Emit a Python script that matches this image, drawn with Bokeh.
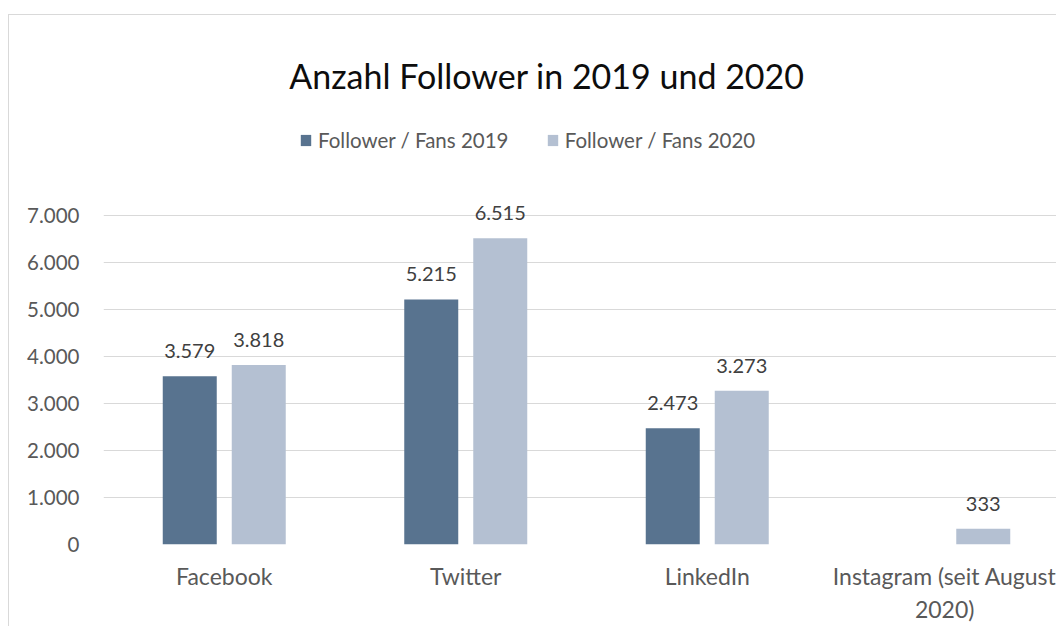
from bokeh.plotting import figure
from bokeh.models import (Range1d, FixedTicker, Label, Legend, LegendItem,
                          ColumnDataSource, LabelSet)
from bokeh.core.properties import value
from bokeh.embed import file_html
from bokeh.resources import INLINE

# ---- data ----
categories = ["Facebook", "Twitter", "LinkedIn", "Instagram (seit August\n2020)"]
fans_2019 = [3579, 5215, 2473, None]
fans_2020 = [3818, 6515, 3273, 333]
series_names = ["Follower / Fans 2019", "Follower / Fans 2020"]
y_ticks = [0, 1000, 2000, 3000, 4000, 5000, 6000, 7000]
y_tick_labels = ["0", "1.000", "2.000", "3.000", "4.000", "5.000", "6.000", "7.000"]
title_text = "Anzahl Follower in 2019 und 2020"

# ---- style / layout ----
FONT = "Lato"
C2019 = "#58738f"
C2020 = "#b4c0d2"
ORIG_X, ORIG_Y = 9, 15          # page position of the canvas
W, H = 1048, 612
FRAME_LEFT_PAGE, FRAME_BOTTOM_PAGE = 103, 544
Y7000_PAGE = 215
ML = FRAME_LEFT_PAGE - ORIG_X
frame_bottom = FRAME_BOTTOM_PAGE - ORIG_Y
MB = H - frame_bottom
frame_w = W - ML
cat_px = 241.5
px_per_unit = (FRAME_BOTTOM_PAGE - Y7000_PAGE) / 7000
x_end = frame_w / cat_px
y_end = frame_bottom / px_per_unit

def fmt(v):
    return f"{v:,}".replace(",", ".")

def px_x(page_x):
    return (page_x - FRAME_LEFT_PAGE) / cat_px

def px_y(page_y):
    return (FRAME_BOTTOM_PAGE - page_y) / px_per_unit

p = figure(width=W, height=H, output_backend="svg", toolbar_location=None,
           x_range=Range1d(0, x_end), y_range=Range1d(0, y_end),
           min_border_left=ML, min_border_right=0, min_border_top=0,
           min_border_bottom=MB)
p.margin = (ORIG_Y - 1, 0, 0, ORIG_X - 1)
p.styles = {"border-left": "1px solid #d9d9d9", "border-top": "1px solid #d9d9d9"}
p.outline_line_color = None
p.background_fill_color = "white"
p.border_fill_color = "white"

bar_w = 54 / cat_px
off = 34.5 / cat_px

def src(vals, shift):
    xs, ys, ls = [], [], []
    for i, v in enumerate(vals):
        if v is None:
            continue
        xs.append(i + 0.5 + shift)
        ys.append(v)
        ls.append(fmt(v))
    return ColumnDataSource(dict(x=xs, top=ys, lab=ls))

s19 = src(fans_2019, -off)
s20 = src(fans_2020, off)
r19 = p.vbar(x="x", top="top", width=bar_w, source=s19, fill_color=C2019, line_color=None)
r20 = p.vbar(x="x", top="top", width=bar_w, source=s20, fill_color=C2020, line_color=None)

for s in (s19, s20):
    p.add_layout(LabelSet(x="x", y="top", text="lab", source=s, text_align="center",
                          text_baseline="bottom", y_offset=18,
                          text_font=value(FONT), text_font_size="20px",
                          text_color="#404040"))

# axes
p.yaxis.ticker = FixedTicker(ticks=y_ticks)
p.yaxis.major_label_overrides = {t: l for t, l in zip(y_ticks, y_tick_labels)}
p.xaxis.ticker = FixedTicker(ticks=[i + 0.5 for i in range(len(categories))])
p.xaxis.major_label_overrides = {i + 0.5: c for i, c in enumerate(categories)}
for ax in (p.xaxis, p.yaxis):
    ax.axis_line_color = None
    ax.major_tick_line_color = None
    ax.minor_tick_line_color = None
    ax.major_tick_in = 0
    ax.major_tick_out = 0
    ax.major_label_text_font = FONT
    ax.major_label_text_color = "#595959"
p.yaxis.major_label_text_font_size = "20.5px"
p.xaxis.major_label_text_font_size = "23px"
p.yaxis.major_label_standoff = 24
p.xaxis.major_label_standoff = 17

p.xgrid.grid_line_color = None
p.ygrid.ticker = FixedTicker(ticks=y_ticks)
p.ygrid.grid_line_color = "#d9d9d9"
p.ygrid.grid_line_width = 1

# title
p.add_layout(Label(x=px_x(546.5), y=px_y(75), text=title_text, text_align="center",
                   text_baseline="middle", text_font=FONT, text_font_size="34px",
                   text_color="#0d0d0d"))

# legends (one per series, placed at the reference positions)
for r, name, left_px in ((r19, series_names[0], 299), (r20, series_names[1], 545.7)):
    lg = Legend(items=[LegendItem(label=name, renderers=[r])],
                location=(left_px - FRAME_LEFT_PAGE, FRAME_BOTTOM_PAGE - 141 - 11),
                glyph_width=13, glyph_height=14, label_standoff=6,
                padding=0, margin=0, border_line_color=None,
                background_fill_alpha=0, label_text_font=FONT,
                label_text_font_size="20.5px", label_text_color="#595959",
                label_height=22)
    p.add_layout(lg, "center")

open("out.html", "w").write(file_html(p, INLINE))
